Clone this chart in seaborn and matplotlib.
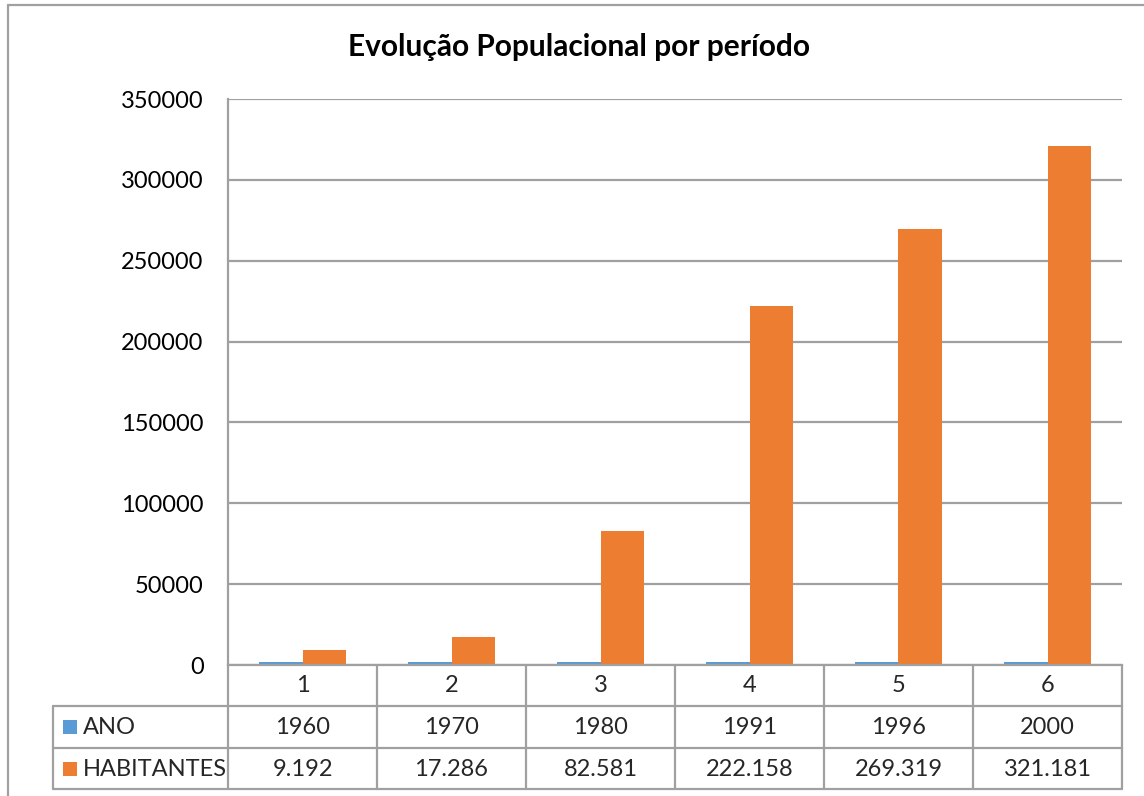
import matplotlib
matplotlib.use("Agg")
import matplotlib.pyplot as plt
import seaborn as sns
import pandas as pd
from matplotlib.lines import Line2D
from matplotlib.patches import Rectangle

# ---- data ----
categories = ["1", "2", "3", "4", "5", "6"]
ano = [1960, 1970, 1980, 1991, 1996, 2000]
habitantes = [9192, 17286, 82581, 222158, 269319, 321181]
ano_labels = ["1960", "1970", "1980", "1991", "1996", "2000"]
hab_labels = ["9.192", "17.286", "82.581", "222.158", "269.319", "321.181"]
series_names = ["ANO", "HABITANTES"]
title = "Evolução Populacional por período"
yticks = [0, 50000, 100000, 150000, 200000, 250000, 300000, 350000]

colors = ["#5B9BD5", "#ED7D31"]
grid_c = "#a0a0a0"
FONT = ["Lato", "DejaVu Sans"]

sns.set_theme(style="white")
plt.rcParams["font.family"] = FONT

df = pd.DataFrame({
    "cat": categories * 2,
    "serie": [series_names[0]] * 6 + [series_names[1]] * 6,
    "valor": ano + habitantes,
})

W, H = 1144, 796
fig = plt.figure(figsize=(W / 100, H / 100), dpi=100)
fig.patch.set_facecolor("white")

def fx(px):
    return px / W

def fy(py):
    return 1 - py / H

L, R, T, B = 228, 1122, 99, 665
ax = fig.add_axes([fx(L), fy(B), fx(R) - fx(L), fy(T) - fy(B)])

sns.barplot(data=df, x="cat", y="valor", hue="serie", palette=colors,
            width=0.58, ax=ax, legend=False, saturation=1, edgecolor="none")

ax.set_ylim(0, 350000)
ax.set_xlim(-0.5, 5.5)
ax.set_yticks(yticks)
ax.set_yticklabels([str(v) for v in yticks], fontsize=17, color="#000000")
ax.tick_params(axis="y", length=0, pad=17.5)
ax.set_xticks([])
ax.set_xlabel("")
ax.set_ylabel("")
ax.yaxis.grid(True, color=grid_c, linewidth=1.6)
ax.set_axisbelow(True)
for s in ["top", "right"]:
    ax.spines[s].set_visible(False)
for s in ["left", "bottom"]:
    ax.spines[s].set_color(grid_c)
    ax.spines[s].set_linewidth(1.6)

# ---- chart border ----
lw = 1.6
fig.add_artist(Line2D([fx(8), fx(1144)], [fy(5), fy(5)], color=grid_c, lw=lw))
fig.add_artist(Line2D([fx(8), fx(8)], [fy(5), fy(796)], color=grid_c, lw=lw))

# ---- title ----
fig.text(fx(579), fy(47), title, ha="center", va="center",
         fontsize=21.5, fontweight="bold", color="#000000")

# ---- data table ----
colw = (R - L) / 6
rows_y = [665, 706, 748, 789]
tl = 53
for y in rows_y[1:]:
    fig.add_artist(Line2D([fx(tl), fx(R)], [fy(y), fy(y)], color=grid_c, lw=lw))
for k in range(7):
    x = L + k * colw
    fig.add_artist(Line2D([fx(x), fx(x)], [fy(665), fy(789)], color=grid_c, lw=lw))
fig.add_artist(Line2D([fx(tl), fx(tl)], [fy(706), fy(789)], color=grid_c, lw=lw))

fs = 17
for i, c in enumerate(categories):
    xc = L + (i + 0.5) * colw
    fig.text(fx(xc), fy(686), c, ha="center", va="center", fontsize=fs)
    fig.text(fx(xc), fy(727), ano_labels[i], ha="center", va="center", fontsize=fs)
    fig.text(fx(xc), fy(769), hab_labels[i], ha="center", va="center", fontsize=fs)

for j, (name, yc) in enumerate(zip(series_names, [727, 769])):
    fig.add_artist(Rectangle((fx(63), fy(yc + 7)), fx(14), 14 / H,
                             facecolor=colors[j], edgecolor="none",
                             transform=fig.transFigure))
    fig.text(fx(83), fy(yc), name, ha="left", va="center", fontsize=fs)

fig.savefig("out.png", dpi=100, facecolor="white")
